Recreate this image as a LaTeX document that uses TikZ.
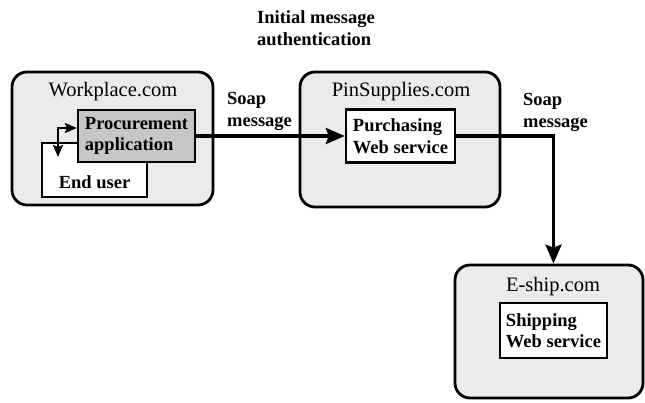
\documentclass[tikz,border=0pt]{standalone}
\usepackage{fontspec}
\setmainfont{Liberation Serif}
\usetikzlibrary{arrows.meta}
\definecolor{sitegray}{HTML}{EBEBEB}
\definecolor{appgray}{HTML}{C6C6C6}

\begin{document}
\begin{tikzpicture}[x=1pt, y=-1pt,
  site/.style={draw, line width=2.8pt, rounded corners=15pt, fill=sitegray, inner sep=0pt},
  svc/.style={draw, line width=2.3pt, fill=white, inner sep=0pt, align=left,
    font=\fontsize{18.5}{21.5}\selectfont\bfseries},
  sitename/.style={inner sep=0pt, font=\fontsize{20.5}{24}\selectfont},
  msg/.style={align=left, anchor=west, inner sep=0pt,
    font=\fontsize{18.5}{22}\selectfont\bfseries},
  flow/.style={line width=3.4pt, -{Stealth[length=19pt, width=16pt, inset=3pt]}},
  loop/.style={line width=2.2pt, {Stealth[length=12pt, width=10pt, inset=2pt]}-{Stealth[length=12pt, width=10pt, inset=2pt]}}]

\useasboundingbox (0,0) rectangle (645,402);

% sites
\node[site, minimum width=201pt, minimum height=133pt] (workplace) at (112.5,138.5) {};
\node[site, minimum width=200pt, minimum height=135pt] (pinsupplies) at (400,139.5) {};
\node[site, minimum width=188pt, minimum height=133pt] (eship) at (549,331.5) {};

\node[sitename] (wptitle) at (113,92) {Workplace.com};
\node[sitename] (pstitle) at (401,92) {PinSupplies.com};
\node[sitename] (estitle) at (553,287) {E-ship.com};

% services
\node[svc, minimum width=105pt, minimum height=54pt, text height=42pt, text depth=6pt] (enduser) at (94.5,170) {End user};
\node[svc, fill=appgray, minimum width=117pt, minimum height=52pt] (procurement) at (136.5,136) {Procurement\\application};
\node[svc, minimum width=109pt, minimum height=53pt] (purchasing) at (400.5,136) {Purchasing\\Web service};
\node[svc, minimum width=107pt, minimum height=55pt] (shipping) at (553.5,330.5) {Shipping\\Web service};

% labels
\node[msg, anchor=center] (initial) at (316,28) {Initial message\\authentication};
\node[msg] (soap1) at (227,111) {Soap\\message};
\node[msg] (soap2) at (523,112) {Soap\\message};

% messages
\coordinate (loopend) at (58,157);
\coordinate (shipin) at (shipping.north |- eship.north);

\draw[loop] (loopend) |- ([yshift=8pt]procurement.west);
\draw[flow] (procurement.east) -- (procurement.east -| purchasing.west);
\draw[flow] (purchasing.east) -| (shipin);

\end{tikzpicture}
\end{document}
